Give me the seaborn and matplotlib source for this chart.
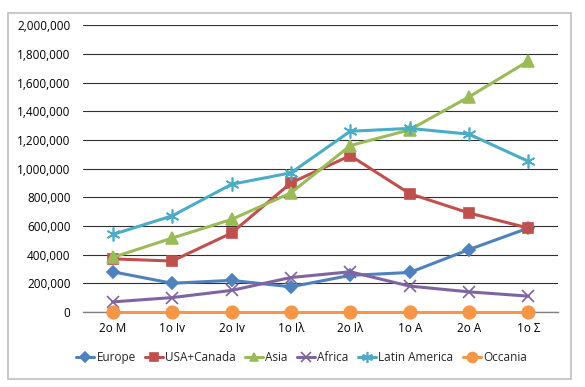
import matplotlib
matplotlib.use("Agg")
import matplotlib.pyplot as plt
from matplotlib.patches import Rectangle
from matplotlib.ticker import FuncFormatter
import pandas as pd
import seaborn as sns

periods = ["2o M", "1o Iv", "2o Iv", "1o Iλ", "2o Iλ", "1o A", "2o A", "1o Σ"]
europe = [280000, 200000, 220000, 175000, 255000, 275000, 435000, 585000]
usa_canada = [370000, 355000, 550000, 900000, 1090000, 825000, 690000, 585000]
asia = [380000, 515000, 645000, 830000, 1160000, 1270000, 1500000, 1750000]
africa = [70000, 100000, 150000, 240000, 280000, 180000, 140000, 110000]
latin_america = [540000, 670000, 890000, 970000, 1260000, 1280000, 1240000, 1050000]
oceania = [0, 0, 0, 0, 0, 0, 0, 0]

regions = ["Europe", "USA+Canada", "Asia", "Africa", "Latin America", "Occania"]
series = [europe, usa_canada, asia, africa, latin_america, oceania]
colors = ["#4F81BD", "#C0504D", "#9BBB59", "#8064A2", "#4BACC6", "#F79646"]
markers = ["D", "s", "^", "x", (6, 2, 0), "o"]
sizes = [6, 7, 8, 9, 10, 9]

df = pd.DataFrame({
    "period": periods * len(regions),
    "region": [r for r in regions for _ in periods],
    "value": [v for s in series for v in s],
})

sns.set_style("white")
plt.rcParams["font.family"] = ["Open Sans", "DejaVu Sans"]

fig = plt.figure(figsize=(5.85, 3.87), dpi=100)
ax = fig.add_axes([0.142, 0.194, 0.812, 0.741])

for reg, col, mk, ms in zip(regions, colors, markers, sizes):
    sub = df[df["region"] == reg]
    sns.lineplot(data=sub, x="period", y="value", color=col, marker=mk,
                 markersize=ms, markeredgecolor=col, markeredgewidth=1.2,
                 linewidth=2.2, label=reg, sort=False, ax=ax,
                 clip_on=False, zorder=3)

ax.set_xlim(-0.5, len(periods) - 0.5)
ax.set_ylim(0, 2000000)
ax.set_yticks(range(0, 2000001, 200000))
ax.yaxis.set_major_formatter(FuncFormatter(lambda v, p: f"{int(v):,}"))
ax.grid(axis="y", color="#303030", linewidth=0.8)
ax.set_axisbelow(True)
for s in ["left", "right", "top"]:
    ax.spines[s].set_visible(False)
ax.spines["bottom"].set_color("#808080")
ax.spines["bottom"].set_linewidth(1.0)
ax.spines["bottom"].set_zorder(1)
ax.tick_params(axis="both", length=0, labelsize=8.5, colors="black")
ax.tick_params(axis="y", pad=9)
ax.tick_params(axis="x", pad=7)
ax.set_xlabel("")
ax.set_ylabel("")

ax.legend(loc="upper center", bbox_to_anchor=(0.46, -0.1), ncol=6, frameon=False,
          fontsize=8.5, handlelength=1.5, handletextpad=0.2, columnspacing=0.8,
          markerscale=0.8)

fig.patches.append(Rectangle((8 / 585, 8 / 387), 563 / 585, 366 / 387,
                             transform=fig.transFigure, fill=False,
                             edgecolor="#bfbfbf", linewidth=1.2))

fig.savefig("out.png", dpi=100)
